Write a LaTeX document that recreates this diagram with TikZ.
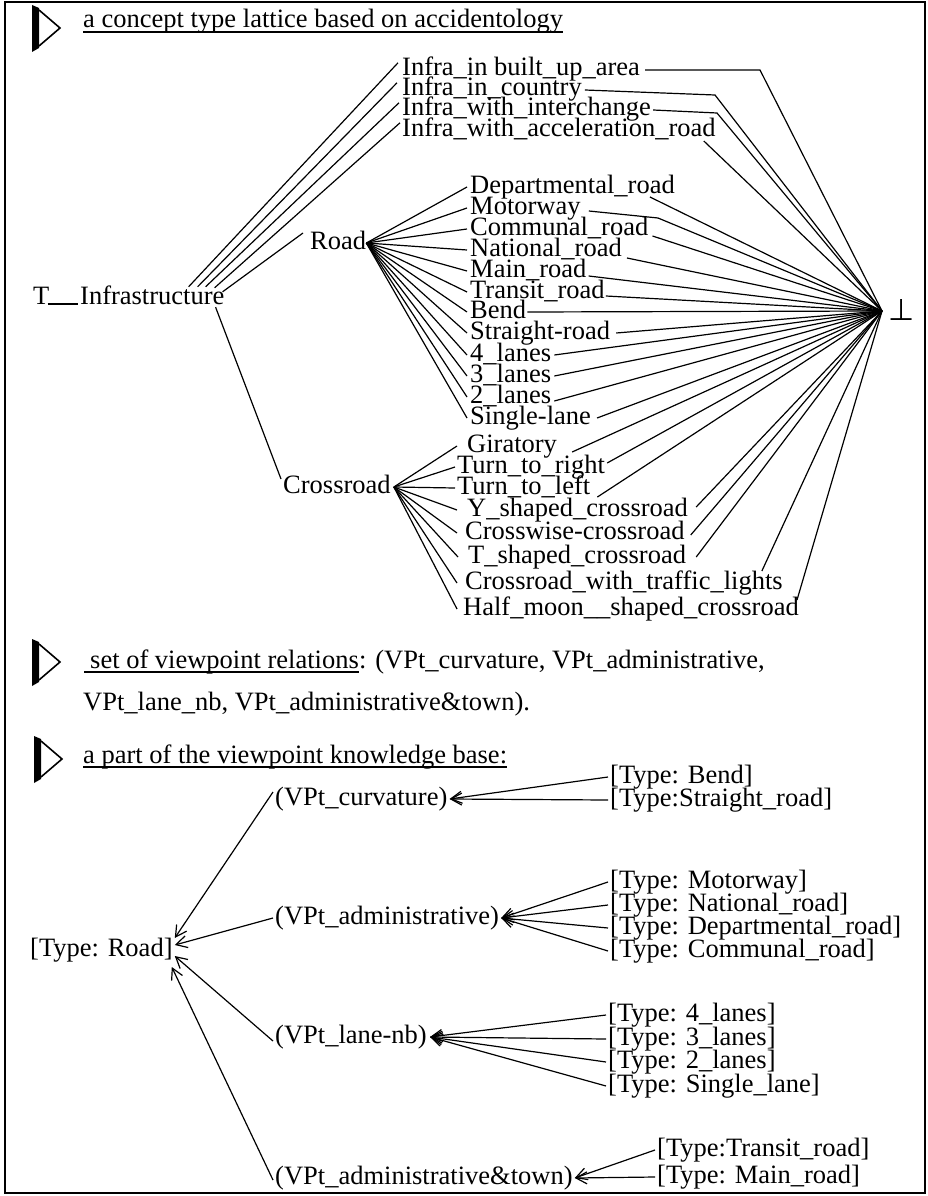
\documentclass[tikz,border=0pt]{standalone}
\usepackage{fontspec}
\setmainfont{Liberation Serif}
\newfontfamily\symfam{DejaVu Sans}
\usetikzlibrary{arrows.meta}
\newcommand{\lblfont}{\fontsize{26.5pt}{26.5pt}\selectfont}
\begin{document}
\begin{tikzpicture}[x=1pt,y=-1pt,
  lbl/.style={anchor=west,inner sep=0pt,text height=17pt,text depth=5pt,font=\lblfont},
  ln/.style={line width=1.2pt},
  arr/.style={line width=1.2pt,-{Straight Barb[length=11pt,width=12pt,line width=1.2pt]}},
  uline/.style={line width=1.1pt},
  secmark/.pic={
    \fill (0,-23) -- (7,-20) -- (7,20) -- (0,24) -- cycle;
    \draw[line width=1.6pt,line join=miter] (7,-18) -- (28,0) -- (7,18);
  }]
\useasboundingbox (0,0) rectangle (927,1196);
\draw[line width=1.3pt] (5,2) rectangle (925,1193);

% ---------- section markers ----------
\pic at (32,28) {secmark};
\pic at (32,662) {secmark};
\pic at (34,759) {secmark};

% ---------- section 1 ----------
\node[lbl] (t1) at (83,22) {a concept type lattice based on accidentology};
\draw[uline] ([yshift=-4pt]t1.base west) -- ([yshift=-4pt]t1.base east);

\node[lbl] (top) at (33,298) {T};
\node[lbl] (inf) at (80,298) {Infrastructure};
\draw[ln] ([xshift=-2pt]top.base east) -- ([xshift=-2pt]inf.base west);

\node[lbl] (i1) at (402,70) {Infra\_in built\_up\_area};
\node[lbl] (i2) at (402,90) {Infra\_in\_country};
\node[lbl] (i3) at (402,110) {Infra\_with\_interchange};
\node[lbl] (i4) at (402,130) {Infra\_with\_acceleration\_road};

\node[lbl] (rd) at (310,243) {Road};
\node[lbl] (cr) at (283,487) {Crossroad};

\node[lbl] (dep) at (470,187) {Departmental\_road};
\node[lbl] (mot) at (470,208) {Motorway};
\node[lbl] (com) at (470,229) {Communal\_road};
\node[lbl] (nat) at (470,250) {National\_road};
\node[lbl] (mai) at (470,271) {Main\_road};
\node[lbl] (tra) at (470,292) {Transit\_road};
\node[lbl] (ben) at (470,312) {Bend};
\node[lbl] (str) at (470,333) {Straight-road};
\node[lbl] (lf) at (470,355) {4\_lanes};
\node[lbl] (lt) at (470,376) {3\_lanes};
\node[lbl] (lw) at (470,397) {2\_lanes};
\node[lbl] (sl) at (470,418) {Single-lane};

\node[lbl] (gir) at (467,446) {Giratory};
\node[lbl] (tr) at (457,467) {Turn\_to\_right};
\node[lbl] (tl) at (457,488) {Turn\_to\_left};
\node[lbl] (ys) at (467,510) {Y\_shaped\_crossroad};
\node[lbl] (cw) at (465,533) {Crosswise-crossroad};
\node[lbl] (tsh) at (468,557) {T\_shaped\_crossroad};
\node[lbl] (ctl) at (465,583) {Crossroad\_with\_traffic\_lights};
\node[lbl] (hm) at (463,609) {Half\_moon\_\_shaped\_crossroad};

\node[anchor=west,inner xsep=6pt,inner ysep=0pt,text height=18pt,text depth=0pt,
      font=\symfam\fontsize{30pt}{30pt}\selectfont] (bot) at (882,311) {⊥};

% Infrastructure -> children
\draw[ln] ([xshift=-36pt]inf.north east) -- ([xshift=-4pt,yshift=-4pt]i1.north west);
\draw[ln] ([xshift=-27pt]inf.north east) -- ([xshift=-5pt,yshift=-4pt]i2.north west);
\draw[ln] ([xshift=-19pt]inf.north east) -- ([xshift=-3pt,yshift=-4pt]i3.north west);
\draw[ln] ([xshift=-10pt,yshift=-1pt]inf.north east) -- ([xshift=-2pt,yshift=-4pt]i4.north west);
\draw[ln] ([xshift=-2pt,yshift=-5pt]inf.north east) -- ([xshift=-7pt,yshift=10pt]rd.west);
\draw[ln] ([xshift=-9pt,yshift=2pt]inf.south east) -- ([xshift=-2pt,yshift=8pt]cr.west);

% Road -> children
\foreach \c in {dep,mot,com,nat,mai,tra,ben,str,lf,lt,lw,sl}
  \draw[ln] (rd.east) -- ([xshift=-3pt]\c.west);

% Crossroad -> children
\draw[ln] ([xshift=3pt]cr.east) -- ([xshift=-10pt]gir.west);
\draw[ln] ([xshift=3pt]cr.east) -- ([xshift=-2pt]tr.west);
\draw[ln] ([xshift=3pt]cr.east) -- ([xshift=-2pt]tl.west);
\draw[ln] ([xshift=3pt]cr.east) -- ([xshift=-10pt]ys.west);
\draw[ln] ([xshift=3pt]cr.east) -- ([xshift=-8pt]cw.west);
\draw[ln] ([xshift=3pt]cr.east) -- ([xshift=-10pt]tsh.west);
\draw[ln] ([xshift=3pt]cr.east) -- ([xshift=-8pt]ctl.west);
\draw[ln] ([xshift=3pt]cr.east) -- ([xshift=-6pt]hm.west);

% children -> bottom
\coordinate (k1) at (760,70);
\coordinate (k2) at (715,95);
\coordinate (k3) at (717,113);
\coordinate (k4) at (658,218);
\draw[ln] ([xshift=5pt]i1.east) -- (k1) -- (bot.west);
\draw[ln] ([xshift=3pt]i2.east) -- (k2) -- (bot.west);
\draw[ln] ([xshift=2pt]i3.east) -- (k3) -- (bot.west);
\draw[ln] ([xshift=-12pt,yshift=-11pt]i4.east) -- (bot.west);
\draw[ln] ([xshift=-25pt,yshift=-10pt]dep.east) -- (bot.west);
\draw[ln] ([xshift=8pt,yshift=-3pt]mot.east) -- (k4) -- (bot.west);
\draw[ln] ([xshift=4pt,yshift=-7pt]com.east) -- (bot.west);
\draw[ln] ([xshift=5pt,yshift=-8pt]nat.east) -- (bot.west);
\draw[ln] ([xshift=2pt,yshift=-5pt]mai.east) -- (bot.west);
\draw[ln] ([xshift=1pt,yshift=-4pt]tra.east) -- (bot.west);
\draw[ln] ([xshift=1pt]ben.east) -- (bot.west);
\draw[ln] ([xshift=6pt]str.east) -- (bot.west);
\draw[ln] ([xshift=3pt]lf.east) -- (bot.west);
\draw[ln] ([xshift=3pt]lt.east) -- (bot.west);
\draw[ln] ([xshift=3pt,yshift=-4pt]lw.east) -- (bot.west);
\draw[ln] ([xshift=6pt]sl.east) -- (bot.west);
\draw[ln] ([xshift=15pt,yshift=-6pt]gir.east) -- (bot.west);
\draw[ln] ([xshift=2pt,yshift=4pt]tr.east) -- (bot.west);
\draw[ln] ([xshift=7pt,yshift=-9pt]tl.east) -- (bot.west);
\draw[ln] ([xshift=8pt,yshift=3pt]ys.east) -- (bot.west);
\draw[ln] ([xshift=6pt,yshift=-2pt]cw.east) -- (bot.west);
\draw[ln] ([xshift=10pt]tsh.east) -- (bot.west);
\draw[ln] ([xshift=-21pt,yshift=12pt]ctl.east) -- (bot.west);
\draw[ln] ([xshift=-2pt,yshift=9pt]hm.east) -- (bot.west);

% ---------- section 2 ----------
\node[lbl] (s2a) at (90,662) {set of viewpoint relations};
\node[lbl,anchor=base west] (s2b) at (s2a.base east) {: (VPt\_curvature, VPt\_administrative,};
\draw[uline] ([xshift=-6pt,yshift=-4pt]s2a.base west) -- ([yshift=-4pt]s2a.base east);
\node[lbl] (s2c) at (83,704) {VPt\_lane\_nb, VPt\_administrative\&town).};

% ---------- section 3 ----------
\node[lbl] (s3) at (83,757) {a part of the viewpoint knowledge base:};
\draw[uline] ([yshift=-4pt]s3.base west) -- ([yshift=-4pt]s3.base east);

\node[lbl] (road) at (30,950) {[Type: Road]};
\node[lbl] (vc) at (275,799) {(VPt\_curvature)};
\node[lbl] (va) at (275,918) {(VPt\_administrative)};
\node[lbl] (vl) at (275,1037) {(VPt\_lane-nb)};
\node[lbl] (vt) at (275,1178) {(VPt\_administrative\&town)};

\node[lbl] (tb) at (610,777) {[Type: Bend]};
\node[lbl] (tst) at (610,800) {[Type:Straight\_road]};
\node[lbl] (tm) at (610,882) {[Type: Motorway]};
\node[lbl] (tn) at (610,905) {[Type: National\_road]};
\node[lbl] (td) at (610,928) {[Type: Departmental\_road]};
\node[lbl] (tc) at (610,951) {[Type: Communal\_road]};
\node[lbl] (t4) at (608,1015) {[Type: 4\_lanes]};
\node[lbl] (t3) at (608,1039) {[Type: 3\_lanes]};
\node[lbl] (t2) at (608,1062) {[Type: 2\_lanes]};
\node[lbl] (t1l) at (608,1086) {[Type: Single\_lane]};
\node[lbl] (ttr) at (657,1150) {[Type:Transit\_road]};
\node[lbl] (tmr) at (657,1177) {[Type: Main\_road]};

\draw[arr] ([xshift=-2pt]tb.west) -- ([xshift=2pt]vc.east);
\draw[arr] ([xshift=-2pt]tst.west) -- ([xshift=2pt]vc.east);
\foreach \c in {tm,tn,td,tc}
  \draw[arr] ([xshift=-2pt]\c.west) -- ([xshift=2pt]va.east);
\foreach \c in {t4,t3,t2,t1l}
  \draw[arr] ([xshift=-2pt]\c.west) -- ([xshift=3pt]vl.east);
\draw[arr] ([xshift=-2pt]ttr.west) -- ([xshift=2pt]vt.east);
\draw[arr] ([xshift=-2pt]tmr.west) -- ([xshift=2pt]vt.east);

\draw[arr] ([xshift=-2pt,yshift=7pt]vc.west) -- ([xshift=2pt,yshift=12pt]road.east);
\draw[arr] ([xshift=-2pt]va.west) -- ([xshift=2pt,yshift=5pt]road.east);
\draw[arr] ([xshift=-2pt,yshift=-4pt]vl.west) -- ([xshift=2pt,yshift=-6pt]road.east);
\draw[arr] ([xshift=-2pt,yshift=-2pt]vt.west) -- ([xshift=-1pt,yshift=-17pt]road.east);
\end{tikzpicture}
\end{document}
